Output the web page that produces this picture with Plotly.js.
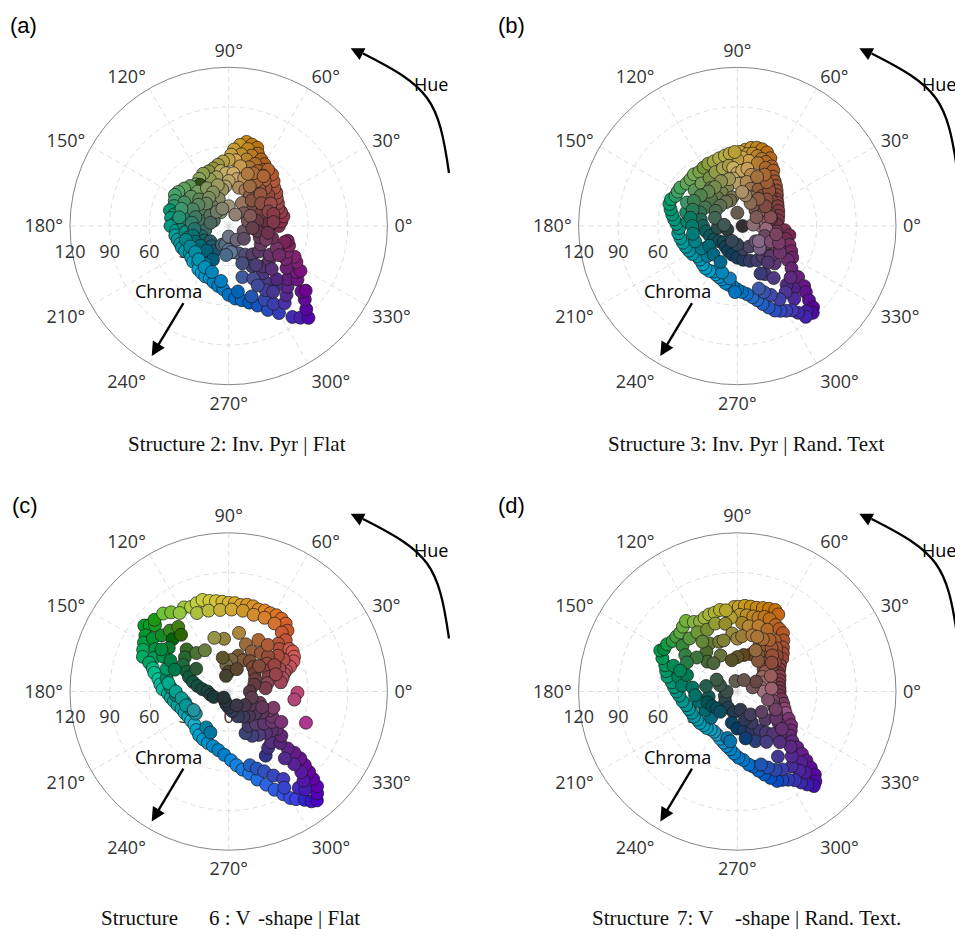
<!DOCTYPE html>
<html><head><meta charset="utf-8">
<script src="https://cdn.plot.ly/plotly-3.0.1.min.js"></script>
<style>html,body{margin:0;padding:0;background:#fff}#chart{width:955px;height:929px}</style>
</head><body><div id="chart"></div>
<script>
// ---------- DATA (hue angle in degrees, chroma, lightness) ----------
// Panel (a) Structure 2
const hueA=[78,74,70,82,76,68,86,72,64,80,88,60,75,67,84,58,90,71,62,79,
 95,100,105,110,98,93,104,112,
 116,122,128,125,134,140,146,150,155,132,142,120,138,152,160,
 165,168,172,176,180,185,190,195,200,178,188,170,196,
 205,210,215,220,225,230,235,240,245,250,212,222,232,
 255,260,265,270,275,280,285,290,295,300,262,278,288,296,300,
 305,308,311,313,316,318,320,306,310,314,318,308,312,303,306,
 322,326,328,332,335,324,330,336,342,346,344,
 0,5,10,15,20,25,30,2,12,22,358,8,
 35,40,45,50,55,38,46,52,56,
 85,80,90,72,95,75,65,100,
 55,45,35,60,30,20,10,40,
 110,130,150,170,120,90,60,160,190,200,
 210,220,230,240,
 250,260,270,280,290,300,310,320,330,340,350,300,310,320,290,285,275,265,0,340,270,300,320,
 42,50,58,65,48,62,70,55,45,35,28,20,15,5,
 105,115,125,135,145,155,165,175,185,195,205,150,170,130,110,
 215,228,245,238,
 295,305,315,325,335,345,330,340,
 15,25,355,350,
 198,208,218,228,240,250,160,170,300,304,296];
const chromaA=[65,64,63,62,60,59,58,56,56,55,54,54,52,51,50,50,50,47,47,46,
 49,47,45,44,42,40,38,38,
 44,42,40,38,42,44,46,47,45,35,36,33,30,38,44,
 46,42,44,40,44,40,41,40,39,34,33,32,32,
 39,38,36,37,38,36,40,41,42,42,30,30,30,
 44,46,48,52,55,57,60,64,70,76,42,50,56,62,68,
 84,88,92,86,80,74,76,72,68,64,60,58,54,50,44,
 66,62,64,58,55,54,50,48,48,46,44,
 38,40,42,41,40,41,42,32,34,34,30,28,
 44,45,48,51,52,38,40,44,46,
 40,36,34,38,30,30,30,28,
 28,25,22,20,30,25,22,15,
 22,20,22,20,12,15,10,12,18,22,
 22,18,20,22,
 15,14,18,20,22,25,28,30,28,25,22,35,40,40,30,40,20,22,15,12,8,12,15,
 30,36,40,44,26,34,42,46,34,30,36,32,35,34,
 32,28,26,24,28,30,26,28,26,28,28,16,14,14,14,
 26,25,28,34,
 44,36,46,38,40,34,44,30,
 15,18,18,30,
 34,33,32,34,36,37,38,38,56,60,50];
const lightA=[62,58,55,65,60,52,66,56,50,62,68,48,58,52,70,46,68,54,48,66,
 66,62,60,58,70,72,66,62,
 62,64,66,30,58,60,62,60,58,60,56,60,52,54,56,
 55,54,56,52,55,56,58,58,57,50,52,48,50,
 56,58,58,60,60,61,62,60,58,56,45,46,42,
 52,50,48,46,44,42,40,38,36,33,50,42,38,35,32,
 30,28,26,26,27,28,28,30,28,28,26,28,26,30,28,
 28,30,30,32,32,28,30,32,32,30,30,
 32,34,36,38,40,42,44,30,36,38,28,30,
 44,46,48,48,50,40,44,48,50,
 72,70,68,64,66,60,55,60,
 45,40,38,52,40,34,30,42,
 56,50,48,44,58,62,55,45,42,40,
 38,36,35,34,
 40,45,48,45,40,35,30,30,32,30,28,30,28,30,35,40,50,44,35,40,50,45,35,
 42,46,48,52,40,50,56,50,44,40,42,38,36,34,
 62,58,56,52,52,50,46,48,44,44,42,46,42,50,54,
 40,38,36,50,
 36,30,28,30,32,30,30,34,
 40,42,32,30,
 50,52,54,56,56,52,56,54,32,30,34];

// Panel (b) Structure 3
const hueB=[84,80,76,72,68,64,88,82,78,74,70,66,60,86,80,72,64,57,90,
 54,50,46,42,38,34,30,52,44,36,
 26,20,14,8,2,22,12,
 355,350,345,340,335,330,352,342,332,326,322,
 320,318,316,314,313,311,309,307,305,312,310,316,308,306,
 303,300,297,294,291,288,285,282,300,296,292,289,
 278,274,270,266,262,258,254,250,246,242,268,262,252,
 238,233,228,222,217,212,207,202,197,192,225,212,200,
 187,182,178,174,170,166,162,158,154,150,175,165,155,
 146,140,135,130,125,120,115,110,140,130,120,112,138,125,
 105,100,96,92,104,98,94,
 90,85,80,75,95,88,78,
 70,60,50,45,65,55,40,
 105,115,125,135,100,105,
 150,160,170,180,190,200,210,220,230,185,
 0,200,90,
 0,10,20,30,355,5,15,25,
 240,250,260,270,280,290,300,310,320,330,340,285,300,320,270,250,315,300,296,305,
 315,325,335,
 48,56,62,68,42,35,52,60,75,82,
 100,110,120,130,140,150,160,170,180,190,115,130,145,160,175,
 215,230,245,
 318,328,338,348,310];
const chromaB=[58,60,61,61,60,57,56,55,56,55,54,53,52,52,50,50,49,50,50,
 46,44,42,40,38,36,35,38,34,32,
 34,33,32,31,30,26,26,
 36,40,38,42,45,48,30,30,36,46,52,
 60,68,72,78,84,87,83,86,80,64,58,56,70,62,
 76,74,72,70,66,62,58,55,64,58,54,50,
 52,50,48,46,45,44,42,41,40,39,50,40,37,
 40,40,39,38,38,40,41,42,43,44,32,32,34,
 45,44,46,48,50,52,54,54,52,52,38,40,42,
 52,50,50,51,50,51,52,52,42,42,42,44,35,35,
 53,54,55,56,45,46,44,
 40,42,44,40,36,32,34,
 30,32,30,25,24,22,18,
 30,28,26,28,22,20,
 28,30,28,26,24,22,20,18,16,15,
 4,8,10,
 18,20,22,24,22,12,26,16,
 18,20,22,24,26,28,30,30,28,26,22,18,18,18,14,12,40,42,40,48,
 24,20,28,
 36,40,44,40,30,26,26,20,24,26,
 36,36,34,34,36,38,36,36,34,34,20,20,20,18,10,
 26,28,30,
 34,38,34,30,36];
const lightB=[66,64,60,57,54,52,68,66,62,58,55,52,50,70,68,56,50,48,66,
 46,44,44,42,40,38,38,44,40,38,
 36,35,33,32,30,32,30,
 32,30,30,32,30,28,34,30,30,30,28,
 28,27,26,26,25,25,26,28,28,26,27,28,28,30,
 32,34,36,38,40,42,44,45,33,36,38,40,
 46,48,48,50,52,54,56,58,58,58,46,50,52,
 60,60,58,56,56,56,55,55,56,56,48,46,48,
 56,55,54,56,55,54,56,58,58,60,50,52,56,
 60,62,62,64,62,58,62,66,58,60,56,62,54,52,
 68,70,68,66,66,64,72,
 72,70,68,60,70,66,60,
 52,45,40,42,50,48,40,
 55,52,48,45,50,44,
 45,44,40,38,36,34,32,30,28,30,
 20,25,40,
 55,52,48,45,50,50,40,42,
 26,25,24,24,24,26,28,30,30,32,35,28,32,38,28,30,30,30,28,30,
 45,48,40,
 42,46,50,52,40,38,44,48,56,62,
 62,58,55,52,50,48,46,46,46,46,48,45,42,40,35,
 40,40,42,
 30,32,34,36,28];

// Panel (c) Structure 6
const hueC=[118,114,110,106,102,98,94,90,86,82,78,74,70,66,62,58,54,50,46,112,104,96,88,80,72,64,56,48,42,44,40,
 35,32,28,25,22,20,18,30,36,24,14,10,
 359,353,338,
 80,95,105,70,60,50,42,36,28,20,12,5,75,65,55,45,35,25,85,95,100,15,0,90,70,100,
 142,140,138,136,130,126,122,146,150,154,158,145,140,134,128,150,156,137,130,144,160,
 163,166,170,174,178,182,186,190,195,200,206,212,218,224,168,176,184,194,204,214,
 135,142,150,155,160,165,170,175,180,190,145,130,120,200,
 230,236,242,248,254,260,266,238,246,
 272,276,280,284,288,292,295,298,300,302,286,290,294,298,302,300,
 305,307,309,311,313,314,315,316,317,317,316,306,308,310,312,312,310,
 300,305,310,315,320,322,318,312,305,298,292,300,310,318,325,330,335,328,320,310,300,290,280,270,260,340,330,345,320,300,250,230,
 172,180,188,198,208,160,152,
 148,152,158,
 60,50,40,30,20,
 330,340,335];
const chromaC=[72,70,71,72,70,69,68,67,67,66,67,67,66,67,67,68,68,67,64,64,63,62,62,62,61,62,62,60,58,52,50,
 56,57,56,54,50,46,44,48,46,42,42,40,
 52,50,63,
 45,40,42,38,35,38,40,36,34,32,30,28,28,26,28,26,24,22,24,20,26,20,16,15,18,12,
 81,78,75,78,77,74,70,76,74,72,70,70,66,64,62,64,62,58,56,56,64,
 60,58,54,52,50,46,44,42,40,38,37,36,36,36,48,44,40,34,32,30,
 45,42,40,35,32,28,24,20,16,14,30,38,36,12,
 38,40,41,42,43,45,48,32,34,
 52,56,60,64,70,76,82,88,93,96,58,62,66,72,78,84,
 100,104,106,102,98,92,86,80,74,68,62,90,94,88,82,74,66,
 56,52,50,55,52,46,44,42,40,38,34,30,32,36,40,38,34,30,26,24,22,20,15,12,10,25,20,18,16,12,8,6,
 46,40,36,34,30,50,56,
 60,50,44,
 45,46,30,40,38,
 46,36,28];
const lightC=[76,78,80,80,80,78,76,74,72,70,68,66,66,64,62,60,58,55,52,74,74,72,70,66,64,62,58,52,50,48,46,
 52,54,54,52,50,50,48,46,44,44,46,42,
 48,46,44,
 58,55,60,50,46,44,42,40,38,36,38,34,40,42,38,36,34,32,44,46,36,30,28,30,32,28,
 56,58,56,55,72,70,74,54,56,60,60,52,50,50,48,54,56,36,38,44,58,
 66,68,70,68,66,62,60,60,60,60,62,64,66,66,50,50,48,50,52,54,
 40,38,40,36,34,32,30,28,26,24,34,44,50,22,
 62,60,58,56,54,52,50,50,46,
 54,54,52,50,48,46,44,42,40,38,42,40,38,36,34,36,
 30,28,28,28,28,28,28,28,28,28,28,30,28,28,28,28,28,
 26,26,28,26,28,30,28,28,30,30,30,28,30,30,32,32,34,30,28,26,26,26,25,24,22,32,28,30,26,24,22,20,
 62,60,58,56,56,56,54,
 50,46,44,
 50,48,38,40,40,
 34,36,30];

// Panel (d) Structure 7
const hueD=[92,89,85,81,77,73,69,65,62,88,83,78,74,70,66,60,86,80,72,64,95,
 56,52,48,44,40,36,32,28,24,54,48,42,38,34,30,
 20,15,10,5,0,355,18,10,2,355,25,30,
 350,345,340,336,332,328,324,320,345,338,330,322,315,318,
 317,316,315,314,313,311,309,307,305,310,312,308,306,310,314,
 303,300,297,294,291,288,285,282,279,300,296,292,288,302,
 275,271,267,263,259,255,250,245,240,258,262,
 235,230,225,220,215,210,205,200,195,190,225,210,195,
 184,180,176,172,168,164,160,156,152,150,158,166,174,162,
 146,142,138,134,130,126,122,118,114,110,106,102,98,140,132,124,116,108,100,145,
 120,110,128,135,115,
 95,90,85,75,65,55,50,60,70,80,90,100,45,40,
 35,30,20,10,0,15,28,
 200,220,240,180,160,150,100,60,260,280,
 190,200,210,220,230,170,
 260,270,280,290,300,305,310,295,285,300,315,320,290,300,280,
 52,58,64,70,46,40,56,66,
 105,140,150,160,175,185,125,130,
 325,335,345,310,320,
 5,25];
const chromaD=[64,64,65,65,65,66,67,68,66,58,58,58,58,60,60,58,52,50,52,52,56,
 57,56,52,48,45,42,38,36,34,48,44,40,36,32,30,
 34,33,32,32,32,32,26,25,24,26,24,22,
 34,36,38,40,44,48,50,52,28,30,34,40,46,56,
 62,68,74,80,86,90,92,88,84,80,72,76,70,64,58,
 80,77,75,74,70,66,62,58,56,68,66,62,58,58,
 52,50,47,44,42,40,38,36,35,36,38,
 35,36,36,37,37,38,38,39,40,42,28,28,30,
 44,46,48,50,54,56,58,62,66,64,52,46,42,40,
 64,62,62,62,64,66,62,60,61,62,62,63,62,54,54,54,52,54,52,48,
 42,40,38,32,30,
 44,40,42,44,40,38,34,32,30,28,26,24,30,26,
 26,22,20,18,20,12,16,
 10,12,14,8,14,18,8,10,16,14,
 22,24,22,20,20,24,
 24,28,30,32,34,38,42,26,22,20,30,24,40,44,36,
 42,46,44,44,38,34,28,34,
 40,40,44,46,34,32,46,28,
 36,32,24,50,44,
 26,28];
const lightD=[70,68,66,64,62,60,58,56,54,64,62,60,58,56,54,52,56,60,58,52,66,
 50,48,46,44,42,40,38,36,36,48,44,40,40,38,36,
 36,34,34,32,32,32,48,50,52,50,40,38,
 32,34,40,44,34,32,30,30,38,36,32,30,28,28,
 28,28,27,26,26,26,25,26,28,26,27,28,28,28,28,
 30,32,34,36,38,40,42,44,46,32,34,36,38,30,
 48,48,50,52,54,56,58,58,58,46,46,
 60,60,60,58,58,56,56,55,55,54,42,40,42,
 54,54,55,54,56,54,54,55,56,50,50,48,46,44,
 56,56,58,62,64,66,68,68,70,70,70,70,68,50,56,58,56,62,58,48,
 48,50,42,40,46,
 58,56,54,56,50,46,44,42,36,32,36,34,42,40,
 44,48,50,52,52,40,34,
 30,28,26,32,34,36,40,38,24,24,
 34,32,30,30,30,36,
 26,24,24,24,26,28,28,26,24,28,30,32,28,30,26,
 46,48,50,54,42,40,42,48,
 52,44,46,48,44,42,52,40,
 30,34,40,28,30,
 48,46];

const angularTicks=[0,30,60,90,120,150,180,210,240,270,300,330];
const radialTicks=[0,30,60,90,120];
const panelLetters=['(a)','(b)','(c)','(d)'];

// ---------- helpers ----------
const W=955,H=929;
const px=x=>x/W, py=y=>1-y/H;
function lchToRgb(L,C,h){
  const hr=h*Math.PI/180, a=C*Math.cos(hr), b=C*Math.sin(hr);
  const fy=(L+16)/116, fx=fy+a/500, fz=fy-b/200;
  const eps=216/24389, kap=24389/27;
  const inv=t=>(t*t*t>eps?t*t*t:(116*t-16)/kap);
  const X=0.95047*inv(fx), Y=inv(fy), Z=1.08883*inv(fz);
  const r=3.2406*X-1.5372*Y-0.4986*Z, g=-0.9689*X+1.8758*Y+0.0415*Z, bl=0.0557*X-0.2040*Y+1.0570*Z;
  const gam=v=>{v=Math.min(1,Math.max(0,v));return v<=0.0031308?12.92*v:1.055*Math.pow(v,1/2.4)-0.055;};
  return 'rgb('+[r,g,bl].map(v=>Math.round(gam(v)*255)).join(',')+')';
}
function mkTrace(h,c,l,sub){
  return {type:'scatterpolar',subplot:sub,theta:h,r:c,mode:'markers',hoverinfo:'skip',showlegend:false,
    marker:{size:13,color:h.map((v,i)=>lchToRgb(l[i],c[i],v)),line:{color:'#1a1a1a',width:0.7},opacity:1}};
}
const R=158.7;
const centers=[[228.7,226],[737.3,226],[228.7,691.5],[737.3,691.5]];
const tickFont={family:'Open Sans, Noto Sans, sans-serif',size:18,color:'#333'};
function mkPolar(cx,cy){
  return {
    domain:{x:[px(cx-R),px(cx+R)],y:[py(cy+R),py(cy-R)]},
    bgcolor:'rgba(0,0,0,0)',
    angularaxis:{direction:'counterclockwise',rotation:0,tickmode:'array',tickvals:angularTicks,
      ticktext:angularTicks.map(v=>v+'°'),ticks:'outside',ticklen:3,tickcolor:'rgba(0,0,0,0)',showline:true,linecolor:'#666',linewidth:0.8,
      showgrid:true,gridcolor:'#d4d4d4',gridwidth:0.8,griddash:'5px,4px',tickfont:tickFont,layer:'below traces'},
    radialaxis:{range:[0,120],tickmode:'array',tickvals:radialTicks,ticktext:radialTicks.map(String),ticks:'outside',ticklen:6,
      tickcolor:'rgba(0,0,0,0)',showline:false,angle:180,side:'counterclockwise',tickangle:180,showgrid:true,gridcolor:'#d4d4d4',
      gridwidth:0.8,griddash:'5px,4px',tickfont:tickFont,layer:'below traces'}
  };
}

const data=[mkTrace(hueA,chromaA,lightA,'polar'),mkTrace(hueB,chromaB,lightB,'polar2'),
            mkTrace(hueC,chromaC,lightC,'polar3'),mkTrace(hueD,chromaD,lightD,'polar4')];

const annotations=[], shapes=[];
const labelPos=[[8.3,25],[496.3,25],[10,505],[496.3,505]];
centers.forEach(([cx,cy],i)=>{
  annotations.push({xref:'paper',yref:'paper',x:px(labelPos[i][0]),y:py(labelPos[i][1]),xanchor:'left',yanchor:'middle',
    text:panelLetters[i],showarrow:false,font:{family:'Liberation Sans, Arial, sans-serif',size:22,color:'#000'}});
  annotations.push({xref:'paper',yref:'paper',x:px(cx+201.8),y:py(cy-142),text:'Hue',showarrow:false,
    xanchor:'center',yanchor:'middle',font:{family:'Open Sans, sans-serif',size:18,color:'#000'}});
  const p=[[220.3,-53],[209.7,-127.3],[201.1,-138.75],[134.3,-172.5]].map(([dx,dy])=>[px(cx+dx),py(cy+dy)]);
  shapes.push({type:'path',xref:'paper',yref:'paper',line:{color:'#000',width:2.3},
    path:`M${p[0][0]},${p[0][1]} C${p[1][0]},${p[1][1]} ${p[2][0]},${p[2][1]} ${p[3][0]},${p[3][1]}`});
  annotations.push({xref:'paper',yref:'paper',x:px(cx+122),y:py(cy-177.7),ax:12,ay:6,text:'',showarrow:true,
    arrowhead:2,arrowsize:1.2,arrowwidth:2.2,arrowcolor:'#000'});
  annotations.push({xref:'paper',yref:'paper',x:px(cx-60),y:py(cy+65),text:'Chroma',showarrow:false,
    xanchor:'center',yanchor:'middle',font:{family:'Open Sans, sans-serif',size:18,color:'#000'}});
  annotations.push({xref:'paper',yref:'paper',x:px(cx-77),y:py(cy+130),ax:32.6,ay:-54.3,text:'',showarrow:true,
    arrowhead:2,arrowsize:1.2,arrowwidth:2.3,arrowcolor:'#000'});
});
const serif={family:'Liberation Serif, Times New Roman, serif',size:21,color:'#111'};
const subs=[
  [237,444,'center','Structure 2: Inv. Pyr | Flat'],
  [745.7,444,'center','Structure 3: Inv. Pyr | Rand. Text'],
  [98.7,918,'left','Structure'],[206.7,918,'left','6 : V'],[256,918,'left','-shape | Flat'],
  [589.7,918,'left','Structure'],[674.7,918,'left','7: V'],[733,918,'left','-shape | Rand. Text.']
];
subs.forEach(([x,y,anc,t])=>annotations.push({xref:'paper',yref:'paper',x:px(x),y:py(y),xanchor:anc,yanchor:'middle',
  text:t,showarrow:false,font:serif}));

const layout={width:W,height:H,margin:{l:0,r:0,t:0,b:0},paper_bgcolor:'#fff',plot_bgcolor:'#fff',showlegend:false,
  polar:mkPolar(...centers[0]),polar2:mkPolar(...centers[1]),polar3:mkPolar(...centers[2]),polar4:mkPolar(...centers[3]),
  annotations,shapes};
Plotly.newPlot('chart',data,layout,{displayModeBar:false,staticPlot:true});
</script></body></html>
